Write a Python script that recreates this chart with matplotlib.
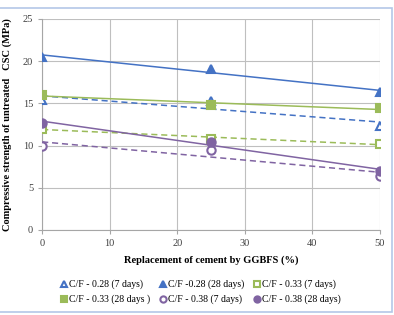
import numpy as np
import matplotlib
matplotlib.use('Agg')
import matplotlib.pyplot as plt
from matplotlib.patches import Rectangle

plt.rcParams['font.family'] = ['Liberation Serif', 'DejaVu Serif']

ggbfs = [0, 25, 50]
cf028_7 = [15.4, 15.3, 12.3]
cf028_28 = [20.5, 19.1, 16.3]
cf033_7 = [12.0, 10.8, 10.2]
cf033_28 = [16.0, 14.8, 14.4]
cf038_7 = [10.0, 9.5, 6.4]
cf038_28 = [12.7, 10.4, 7.0]

labels = ['C/F - 0.28 (7 days)', 'C/F -0.28 (28 days)', 'C/F - 0.33 (7 days)',
          'C/F - 0.33 (28 days )', 'C/F - 0.38 (7 days)', 'C/F - 0.38 (28 days)']

blue = '#4472C4'
green = '#9BBB59'
purple = '#8064A2'

series = [
    (cf028_7, blue, '^', False),
    (cf028_28, blue, '^', True),
    (cf033_7, green, 's', False),
    (cf033_28, green, 's', True),
    (cf038_7, purple, 'o', False),
    (cf038_28, purple, 'o', True),
]

fig = plt.figure(figsize=(3.94, 3.15), dpi=100)
ax = fig.add_axes([0.107, 0.27, 0.857, 0.67])

x = np.array(ggbfs)
handles = []
for (vals, col, mk, filled), lab in zip(series, labels):
    # linear trendline like excel
    k, b = np.polyfit(x, vals, 1)
    ls = '-' if filled else (0, (4, 2.5))
    ax.plot([0, 50], [b, b + 50 * k], color=col, lw=1.1, ls=ls, zorder=2)
    fc = col if filled else 'white'
    h, = ax.plot(x, vals, ls='none', marker=mk, ms=6, mfc=fc, mec=col, mew=1.5,
                 label=lab, zorder=3)
    handles.append(h)

ax.set_xlim(0, 50)
ax.set_ylim(0, 25)
ax.set_xticks([0, 10, 20, 30, 40, 50])
ax.set_yticks([0, 5, 10, 15, 20, 25])
ax.grid(True, color='#BFBFBF', lw=0.8)
ax.set_axisbelow(True)
for s in ['top', 'right']:
    ax.spines[s].set_visible(False)
for s in ['left', 'bottom']:
    ax.spines[s].set_color('#A6A6A6')
ax.tick_params(colors='#A6A6A6', labelcolor='#404040', labelsize=7.5, length=3)

ax.set_xlabel('Replacement of cement by GGBFS (%)', fontsize=7.5, fontweight='bold', labelpad=5)
ax.set_ylabel('Compressive strength of untreated   CSC (MPa)', fontsize=7.5, fontweight='bold', labelpad=8)

order = [0, 3, 1, 4, 2, 5]
fig.legend([handles[i] for i in order], [labels[i] for i in order], ncol=3,
           loc='center', bbox_to_anchor=(0.51, 0.073), frameon=False, fontsize=7,
           handlelength=0.6, handletextpad=0.2, columnspacing=1.0, labelspacing=0.55,
           markerscale=0.75)

fig.patches.append(Rectangle((-0.01, 0.008), 1.005, 0.967, transform=fig.transFigure,
                             fill=False, ec='#B4C7E7', lw=1.2))

fig.savefig('out.png', dpi=100)
